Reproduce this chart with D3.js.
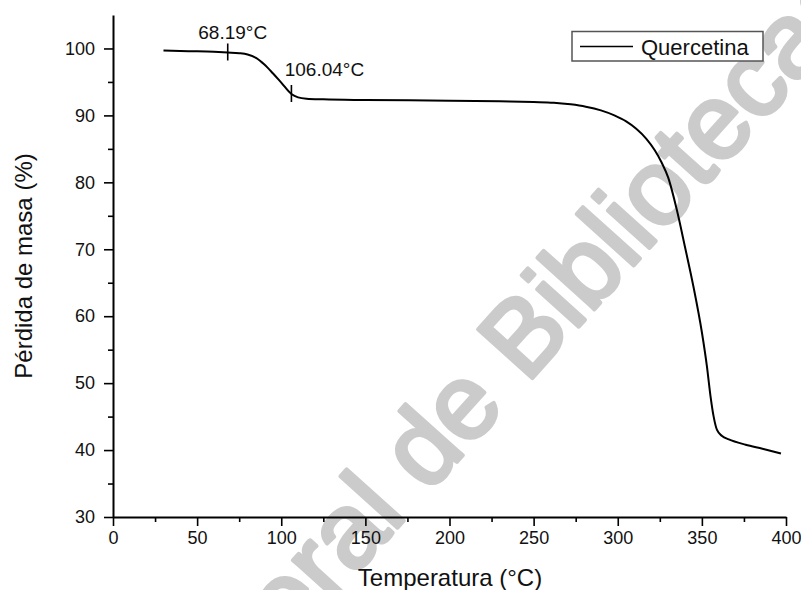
<!DOCTYPE html>
<html>
<head>
<meta charset="utf-8">
<script src="https://cdn.jsdelivr.net/npm/d3@7"></script>
<style>
body{margin:0;background:#fff;}
svg{display:block;font-family:"Liberation Sans",Arial,sans-serif;}
</style>
</head>
<body>
<svg width="801" height="590"></svg>
<script>
//data
var temperatura = [30, 45, 60, 68.19, 75, 80, 85, 90, 95, 100, 106.04, 110, 115, 125, 150, 200, 230, 250, 262, 272, 281, 290, 298, 305, 311, 317, 322, 326, 330, 335, 340, 345, 350, 353, 355, 357, 359, 362, 366, 376, 386, 397];
var masa = [99.7, 99.6, 99.5, 99.4, 99.3, 99.1, 98.6, 97.6, 96.3, 94.9, 93.2, 92.7, 92.5, 92.4, 92.3, 92.2, 92.1, 92.0, 91.9, 91.65, 91.3, 90.75, 90.0, 89.1, 88.0, 86.5, 84.8, 83.0, 80.7, 76.0, 70.3, 64.4, 57.6, 52.5, 48.3, 45.0, 43.0, 42.1, 41.6, 40.8, 40.2, 39.5];
var marcas = [68.19, 106.04];
var marcaTexto = ["68.19°C", "106.04°C"];
var xTicks = [0, 50, 100, 150, 200, 250, 300, 350, 400];
var yTicks = [30, 40, 50, 60, 70, 80, 90, 100];
var serie = "Quercetina";

window.onload = function(){
	var svg = d3.select("svg");
	var margin = {top: 15, right: 15, bottom: 73, left: 113};
	var width = 801 - margin.left - margin.right;
	var height = 590 - margin.top - margin.bottom;

	//scale
	var x = d3.scaleLinear().domain([0, 400]).range([margin.left, margin.left + width]);
	var y = d3.scaleLinear().domain([30, 105]).range([margin.top + height, margin.top]);

	var data = temperatura.map(function(t, i){ return {t: t, m: masa[i]}; });

	//watermark
	var wm = svg.append("g").attr("fill", "#cbcbcb").attr("stroke", "#cbcbcb")
		.attr("stroke-width", 4).attr("stroke-linejoin", "round").attr("font-size", 106);
	wm.append("text").attr("transform", "translate(428,494) rotate(-48)")
		.attr("text-anchor", "end").attr("dx", -29).text("Dirección General");
	wm.append("text").attr("transform", "translate(428,494) rotate(-48)")
		.attr("text-anchor", "start").text("de Bibliotecas UAQ");

	//axes
	svg.append("g").attr("transform", "translate(0," + y(30) + ")")
		.call(d3.axisBottom(x).tickValues(xTicks).tickSize(9).tickPadding(5).tickSizeOuter(0));
	svg.append("g").attr("transform", "translate(0," + y(30) + ")")
		.call(d3.axisBottom(x).tickValues(d3.range(25, 400, 50)).tickSize(5).tickFormat(""))
		.call(function(g){ g.select(".domain").remove(); });
	svg.append("g").attr("transform", "translate(" + x(0) + ",0)")
		.call(d3.axisLeft(y).tickValues(yTicks).tickSize(9).tickPadding(9).tickSizeOuter(0));
	svg.append("g").attr("transform", "translate(" + x(0) + ",0)")
		.call(d3.axisLeft(y).tickValues([35, 45, 55, 65, 75, 85, 95]).tickSize(5).tickFormat(""))
		.call(function(g){ g.select(".domain").remove(); });

	svg.selectAll(".domain").attr("stroke", "#000").attr("stroke-width", 2);
	svg.selectAll(".tick line").attr("stroke", "#000").attr("stroke-width", 1.6);
	svg.selectAll(".tick text").attr("font-size", 18).attr("fill", "#111")
		.attr("font-family", "Liberation Sans, Arial, sans-serif");

	//titles
	svg.append("text").attr("x", 450).attr("y", 586).attr("text-anchor", "middle")
		.attr("font-size", 24).attr("fill", "#111").text("Temperatura (°C)");
	svg.append("text").attr("transform", "translate(32,266) rotate(-90)").attr("text-anchor", "middle")
		.attr("font-size", 24).attr("fill", "#111").text("Pérdida de masa (%)");

	//curve
	var line = d3.line().x(function(d){ return x(d.t); }).y(function(d){ return y(d.m); })
		.curve(d3.curveMonotoneX);
	svg.append("path").datum(data).attr("d", line)
		.attr("fill", "none").attr("stroke", "#000").attr("stroke-width", 2);

	//marks on curve
	var dxs = [5, 33];
	var dys = [13, 18];
	marcas.forEach(function(t, i){
		var m = masa[temperatura.indexOf(t)];
		svg.append("line").attr("x1", x(t)).attr("x2", x(t))
			.attr("y1", y(m) - 9).attr("y2", y(m) + 8)
			.attr("stroke", "#000").attr("stroke-width", 1.6);
		svg.append("text").attr("x", x(t) + dxs[i]).attr("y", y(m) - dys[i])
			.attr("text-anchor", "middle").attr("font-size", 19).attr("fill", "#111")
			.text(marcaTexto[i]);
	});

	//legend
	var lg = svg.append("g");
	lg.append("rect").attr("x", 572).attr("y", 31.5).attr("width", 191).attr("height", 29.5)
		.attr("fill", "#fff").attr("stroke", "#555").attr("stroke-width", 1.5);
	lg.append("line").attr("x1", 580).attr("x2", 633).attr("y1", 46.5).attr("y2", 46.5)
		.attr("stroke", "#000").attr("stroke-width", 1.5);
	lg.append("text").attr("x", 641).attr("y", 54.5).attr("font-size", 22).attr("fill", "#111").text(serie);
}
</script>
</body>
</html>
